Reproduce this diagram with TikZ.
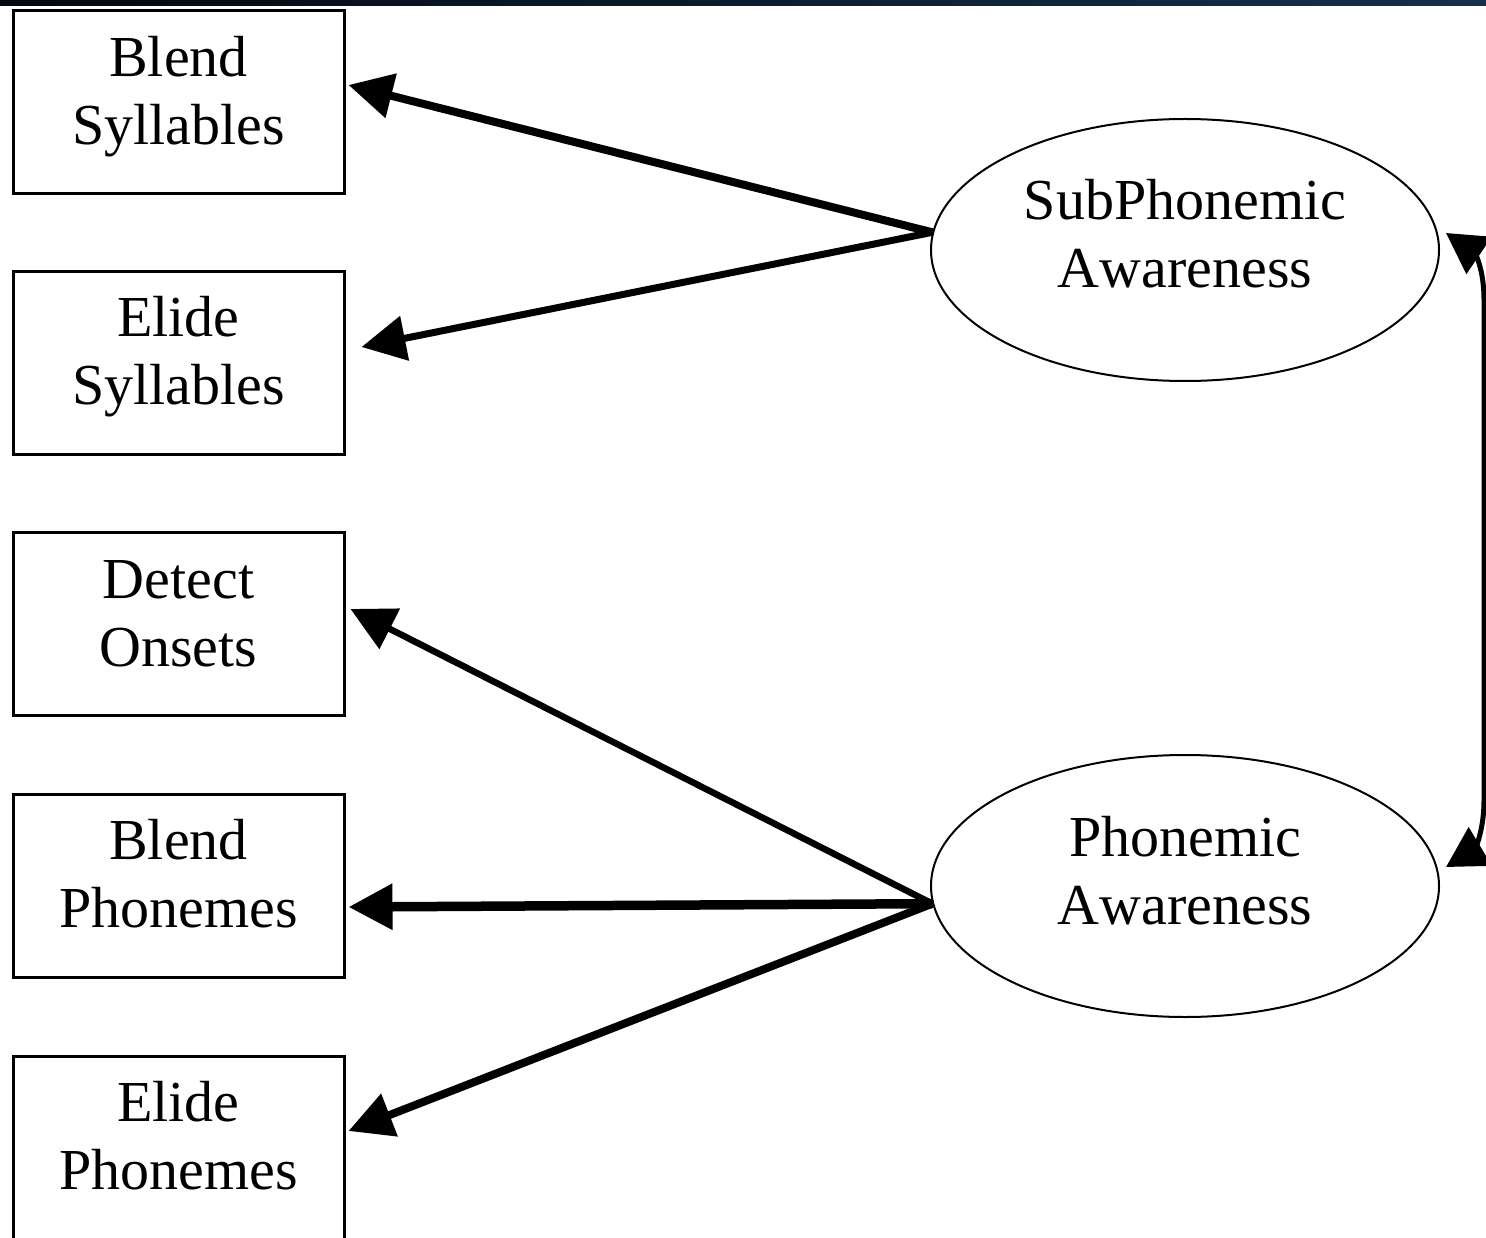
\documentclass[tikz,border=0pt]{standalone}
\usepackage{fontspec}
\setmainfont{Liberation Serif}[Kerning=Off]
\usetikzlibrary{shapes.geometric,arrows.meta,calc}
\definecolor{bandleft}{RGB}{3,8,13}
\definecolor{bandright}{RGB}{21,48,78}
\begin{document}
\begin{tikzpicture}[x=1pt,y=-1pt,
  labelfont/.style={font=\fontsize{58pt}{68pt}\selectfont},
  task/.style={draw,line width=3pt,rectangle,minimum width=331pt,minimum height=183pt,
    inner sep=0pt,align=center,text height=108pt,text depth=24pt,labelfont},
  factor/.style={draw,line width=2pt,ellipse,minimum width=508pt,minimum height=262pt,
    inner sep=0pt,align=center,text height=108pt,text depth=32pt,labelfont},
  load/.style={line width=8pt,-{Triangle[length=44pt,width=44pt]}},
  cov/.style={line width=5pt,{Triangle[length=40pt,width=44pt]}-{Triangle[length=40pt,width=44pt]}}]

\useasboundingbox (0,0) rectangle (1486,1238);
\clip (0,0) rectangle (1486,1238);
\fill[white] (0,0) rectangle (1486,1238);
\shade[left color=bandleft,right color=bandright] (0,0) rectangle (1486,6);

% observed tasks
\node[task] (bs) at (178.5,102.5) {Blend\\Syllables};
\node[task] (es) at (178.5,363)   {Elide\\Syllables};
\node[task] (do) at (178.5,624)   {Detect\\Onsets};
\node[task] (bp) at (178.5,885.5) {Blend\\Phonemes};
\node[task] (ep) at (178.5,1147.5){Elide\\Phonemes};

% latent factors
\node[factor] (sub) at (1185,250) {SubPhonemic\\Awareness};
\node[factor] (pho) at (1185,886) {Phonemic\\Awareness};

% factor loadings
\draw[load] (sub.176.6) -- ($(bs.east)+(3,-17.5)$);
\draw[load,line width=7pt] (sub.176.6) -- ($(es.east)+(16,-16)$);
\draw[load,line width=6.5pt] (pho.184.5) -- ($(do.east)+(5,-15)$);
\draw[load,line width=9.5pt] (pho.184.5) -- ($(bp.east)+(3,21.5)$);
\draw[load] (pho.184.5) -- ($(ep.east)+(3,-16.5)$);

% factor covariance
\draw[cov] ($(sub.east)+(6,-17)$) .. controls +(25,17) and +(0,-38) .. ($(sub.east)+(44,50)$)
  -- ($(pho.east)+(44,-86)$) .. controls +(0,38) and +(25,-15) .. ($(pho.east)+(6,-19)$);
\end{tikzpicture}
\end{document}
